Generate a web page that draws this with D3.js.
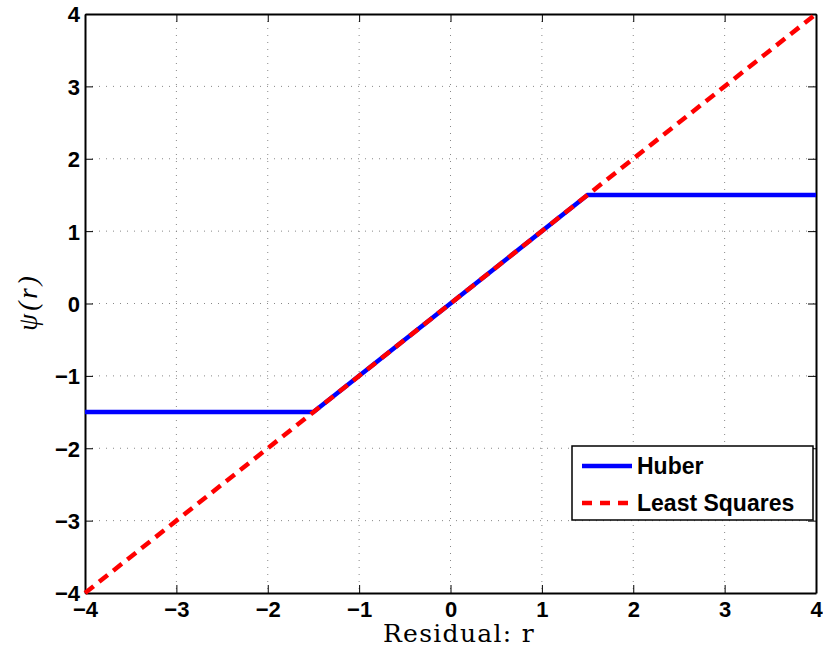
<!DOCTYPE html>
<html><head><meta charset="utf-8">
<script src="https://cdn.jsdelivr.net/npm/d3@7"></script>
<style>body{margin:0;background:#fff}svg{display:block}</style>
</head><body>
<script>
const xTicks = [-4,-3,-2,-1,0,1,2,3,4];
const yTicks = [-4,-3,-2,-1,0,1,2,3,4];
const huberX = [-4, -1.5, 1.5, 4];
const huberY = [-1.5, -1.5, 1.5, 1.5];
const lsX = [-4, 4];
const lsY = [-4, 4];
const seriesNames = ["Huber", "Least Squares"];

const W = 823, H = 656;
const L = 85, R = 816, T = 14, B = 593;
const svg = d3.select("body").append("svg").attr("width", W).attr("height", H);
const x = d3.scaleLinear().domain([-4,4]).range([L,R]);
const y = d3.scaleLinear().domain([-4,4]).range([B,T]);
const fmt = d => d < 0 ? "\u2212" + Math.abs(d) : String(d);

// grid
const g = svg.append("g");
g.selectAll(".gx").data(xTicks.slice(1,-1)).enter().append("line")
  .attr("x1", d=>x(d)).attr("x2", d=>x(d)).attr("y1", T).attr("y2", B)
  .attr("stroke", "#888").attr("stroke-width", 1).attr("stroke-dasharray", "1,6");
g.selectAll(".gy").data(yTicks.slice(1,-1)).enter().append("line")
  .attr("y1", d=>y(d)).attr("y2", d=>y(d)).attr("x1", L).attr("x2", R)
  .attr("stroke", "#888").attr("stroke-width", 1).attr("stroke-dasharray", "1,6");

// axes with inward ticks
const tickLen = 8;
const ax = svg.append("g").attr("transform", `translate(0,${B})`)
  .call(d3.axisBottom(x).tickValues(xTicks).tickFormat(fmt).tickSizeInner(-tickLen).tickSizeOuter(0).tickPadding(8));
const axT = svg.append("g").attr("transform", `translate(0,${T})`)
  .call(d3.axisTop(x).tickValues(xTicks).tickFormat("").tickSizeInner(-tickLen).tickSizeOuter(0));
const ay = svg.append("g").attr("transform", `translate(${L},0)`)
  .call(d3.axisLeft(y).tickValues(yTicks).tickFormat(fmt).tickSizeInner(-tickLen).tickSizeOuter(0).tickPadding(5));
const ayR = svg.append("g").attr("transform", `translate(${R},0)`)
  .call(d3.axisRight(y).tickValues(yTicks).tickFormat("").tickSizeInner(-tickLen).tickSizeOuter(0));
[ax, axT, ay, ayR].forEach(a => {
  a.select(".domain").attr("stroke", "#000").attr("stroke-width", 2);
  a.selectAll(".tick line").attr("stroke", "#000").attr("stroke-width", 1);
  a.selectAll("text").attr("fill", "#000").style("font-family", "Liberation Sans, Arial, sans-serif")
    .style("font-size", "22px").style("font-weight", "bold");
});
ax.selectAll("text").attr("dy", "0.71em");
ay.selectAll("text").attr("dy", "0.36em");

// lines
const line = d3.line().x(d=>x(d[0])).y(d=>y(d[1]));
svg.append("path").datum(huberX.map((v,i)=>[v,huberY[i]])).attr("d", line)
  .attr("fill","none").attr("stroke","#0000ff").attr("stroke-width",4.5);
svg.append("path").datum(lsX.map((v,i)=>[v,lsY[i]])).attr("d", line)
  .attr("fill","none").attr("stroke","#ff0000").attr("stroke-width",4.5).attr("stroke-dasharray","11,7");

// legend
const lg = svg.append("g");
lg.append("rect").attr("x",572).attr("y",446).attr("width",241).attr("height",74)
  .attr("fill","#fff").attr("stroke","#000").attr("stroke-width",1.5);
const colors = ["#0000ff", "#ff0000"];
const dashes = [null, "10,8"];
seriesNames.forEach((n,i) => {
  const yy = 466 + i*37;
  lg.append("line").attr("x1",582).attr("x2",632).attr("y1",yy).attr("y2",yy)
    .attr("stroke",colors[i]).attr("stroke-width",4.5).attr("stroke-dasharray",dashes[i]);
  lg.append("text").attr("x",637).attr("y",yy).attr("dy","0.36em").text(n)
    .style("font-family","Liberation Sans, Arial, sans-serif").style("font-size","23px").style("font-weight","bold");
});

// axis labels
svg.append("text").attr("x", 459).attr("y", 642).attr("text-anchor","middle")
  .style("font-family","DejaVu Serif, Liberation Serif, serif").style("font-size","25px")
  .style("letter-spacing","1.3px").text("Residual: r");
svg.append("text").attr("transform","translate(37,302) rotate(-90)").attr("text-anchor","middle")
  .style("font-family","Liberation Serif, serif").style("font-size","27px").style("font-style","italic")
  .style("letter-spacing","3px").text("\u03C8(r)");
</script>
</body></html>
